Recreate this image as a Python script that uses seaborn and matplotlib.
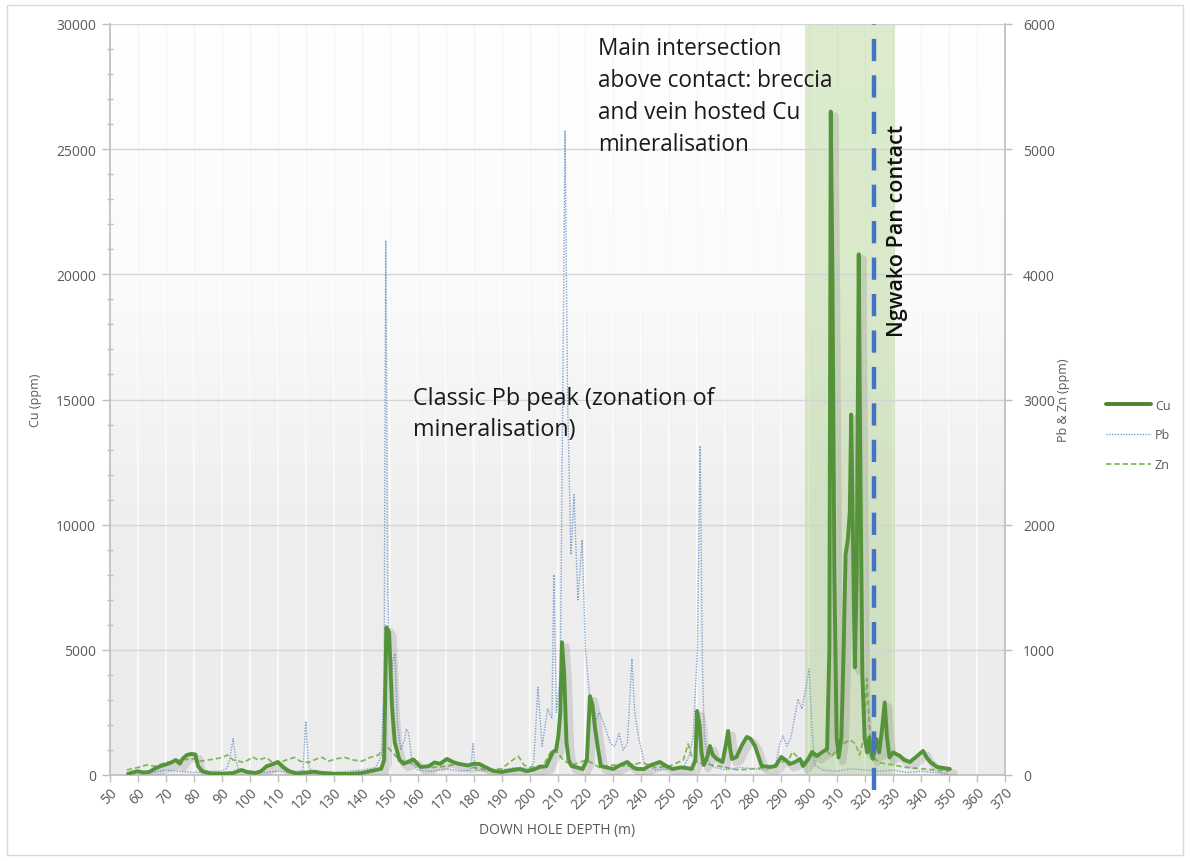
import numpy as np
import pandas as pd
import matplotlib
matplotlib.use("Agg")
import matplotlib.pyplot as plt
import matplotlib.patheffects as pe
from matplotlib.colors import LinearSegmentedColormap
from matplotlib.patches import Rectangle
from matplotlib.lines import Line2D
from matplotlib.ticker import MultipleLocator
import seaborn as sns

# ---------------- data ----------------
cu_depth = [56.5, 58, 60, 62, 64, 66, 68, 70, 72, 73.5, 75, 76, 77.5, 79, 80.5, 81.5, 83, 86, 90, 94,
            97, 99, 102, 104, 106, 108, 110, 112, 114, 117, 120, 123, 126, 130, 135, 140, 143, 145, 147, 148,
            148.8, 149.8, 150.8, 151.8, 153.5, 155, 157, 158.5, 161, 164, 166, 168, 170.5, 173, 175, 178, 180, 182, 184.5, 187,
            190, 193, 196.6, 199, 201.5, 203.7, 206, 207.5, 208.4, 209.5, 210.3, 211, 211.6, 212.4, 213.2, 214, 215, 217, 219, 220.5,
            221.6, 222.5, 223.5, 224.5, 225.5, 227.5, 230, 232.5, 235, 237, 238.5, 241, 243, 246.6, 249, 251, 254, 256, 258, 259.3,
            259.9, 260.8, 261.5, 262.3, 263.5, 264.5, 265.5, 267, 269, 270.2, 271, 271.8, 272.4, 274, 276, 277.7, 279, 280.6, 282, 283,
            286, 288, 290, 291.5, 293, 295, 296.7, 297.8, 299.5, 301, 302.8, 304.5, 306.4, 307.2, 307.7, 308.3, 309, 309.8, 310.5, 311.5,
            312.3, 313, 313.8, 314.5, 315, 315.7, 316.3, 317, 317.7, 318.3, 319, 319.8, 320.7, 321.5, 322.3, 322.8, 323.5, 324, 325, 326,
            327, 327.8, 328.7, 330, 332.4, 334, 336, 338, 340.7, 342, 343.5, 345.7, 348, 350.3]
cu_ppm = [40, 100, 150, 100, 120, 250, 350, 420, 500, 600, 450, 650, 800, 840, 820, 350, 150, 60, 50, 80,
          200, 120, 80, 150, 350, 420, 520, 300, 150, 60, 100, 130, 80, 50, 40, 80, 150, 200, 250, 600,
          5900, 5700, 2800, 1300, 600, 450, 550, 620, 320, 350, 500, 450, 640, 500, 440, 380, 450, 440, 300, 160,
          120, 180, 240, 150, 220, 320, 350, 700, 920, 1000, 1560, 2500, 5300, 4000, 1320, 600, 360, 300, 240, 600,
          3150, 2800, 1800, 1040, 360, 300, 240, 400, 520, 300, 240, 240, 380, 520, 350, 240, 300, 280, 240, 600,
          2560, 2000, 900, 400, 700, 1160, 800, 640, 520, 1200, 1760, 1000, 640, 720, 1200, 1520, 1450, 1160, 700, 360,
          320, 360, 720, 600, 440, 520, 640, 360, 600, 920, 760, 900, 1040, 5000, 26500, 20000, 8000, 1500, 700, 1500,
          5000, 8800, 9400, 10500, 14400, 9000, 4300, 8000, 20800, 12000, 4000, 1500, 900, 1500, 800, 640, 1200, 1440, 900, 1800,
          2900, 1500, 700, 900, 760, 600, 520, 700, 960, 700, 500, 320, 280, 240]

pb_depth = [56, 60, 65, 70, 75, 80, 85, 90, 92, 93, 94, 95, 96, 100, 105, 110, 115, 119, 120, 121,
            122, 130, 135, 140, 145, 147, 148, 148.6, 149.3, 150.2, 151, 151.9, 152.8, 154, 155.3, 156, 156.8, 158, 160, 165,
            170, 175, 179, 179.8, 180.6, 185, 190, 195, 200, 201.5, 203, 204.5, 206.5, 208, 208.7, 209.6, 211, 212.7, 213.6, 214.8,
            215.9, 217.3, 218.8, 220, 221.6, 223, 225, 227, 229, 230.5, 232, 233.5, 235, 236.6, 237.6, 239, 241, 245, 250, 255,
            257, 258.5, 260, 261, 261.8, 262.5, 264, 266, 270, 275, 280, 285, 288, 289.5, 290.6, 292, 293.5, 296, 297.4, 300,
            301, 302, 305, 310, 315, 320, 325, 330, 335, 340, 345, 350]
pb_ppm = [20, 30, 20, 40, 30, 20, 30, 30, 60, 150, 290, 120, 40, 30, 20, 30, 20, 40, 430, 80,
          30, 20, 30, 40, 60, 150, 800, 4270, 1500, 700, 900, 970, 400, 200, 280, 370, 330, 100, 40, 30,
          50, 30, 40, 250, 40, 30, 40, 60, 50, 100, 700, 230, 530, 450, 1600, 500, 800, 5150, 3000, 1760,
          2240, 1400, 1880, 1000, 600, 400, 500, 380, 250, 230, 330, 200, 250, 930, 500, 300, 100, 40, 50, 60,
          150, 300, 1000, 2630, 900, 300, 100, 60, 40, 60, 50, 40, 80, 250, 312, 232, 300, 607, 527, 847,
          350, 80, 40, 30, 50, 40, 30, 40, 20, 30, 20, 10]

zn_depth = [56, 60, 63, 66, 70, 75, 80, 82, 85, 88, 90, 92, 94, 96, 98, 101, 103, 106, 108, 110,
            113, 116, 118, 121, 124, 126, 128, 131, 134, 137, 140, 143, 146, 147.6, 149, 151, 153, 156, 160, 165,
            170, 175, 180, 185, 190, 194, 196, 198, 200, 205, 208, 210, 212, 215, 218, 220, 222, 225, 230, 235,
            240, 245, 250, 255, 256.7, 258, 260, 265, 270, 275, 280, 285, 290, 293, 294, 296, 298, 300, 303, 306,
            308, 310, 312, 314.6, 316.5, 318, 319.5, 320.6, 321.5, 322.5, 325, 330, 335, 340, 345, 350]
zn_ppm = [40, 60, 80, 70, 100, 120, 130, 110, 120, 130, 140, 160, 120, 110, 100, 144, 120, 140, 100, 90,
          120, 140, 110, 100, 130, 140, 110, 130, 140, 120, 110, 140, 160, 208, 230, 180, 130, 100, 80, 60,
          70, 90, 60, 40, 50, 120, 150, 80, 60, 80, 200, 180, 120, 80, 100, 120, 100, 60, 80, 70,
          100, 60, 70, 120, 248, 150, 100, 80, 60, 40, 50, 60, 100, 140, 184, 140, 100, 150, 160, 200,
          150, 200, 250, 280, 250, 160, 300, 770, 400, 150, 100, 80, 60, 50, 40, 30]

x_ticks = list(range(50, 371, 10))
ZONE_START, ZONE_END = 298.5, 330.5
CONTACT_DEPTH = 323

annot_main = "Main intersection\nabove contact: breccia\nand vein hosted Cu\nmineralisation"
annot_pb = "Classic Pb peak (zonation of\nmineralisation)"
annot_contact = "Ngwako Pan contact"

cu_df = pd.DataFrame({"depth": cu_depth, "ppm": cu_ppm})
pb_df = pd.DataFrame({"depth": pb_depth, "ppm": pb_ppm})
zn_df = pd.DataFrame({"depth": zn_depth, "ppm": zn_ppm})

# ---------------- style ----------------
sns.set_theme(style="white")
plt.rcParams["font.family"] = ["Open Sans", "DejaVu Sans"]

W, H = 1190, 862
fig = plt.figure(figsize=(W / 100, H / 100), dpi=100)
fig.patch.set_facecolor("white")
fig.patches.append(Rectangle((7 / W, 6 / H), (1183 - 7) / W, (856 - 6) / H, transform=fig.transFigure,
                             fill=False, edgecolor="#d9d9d9", linewidth=1.0))

L, R, T, B = 110, 1005, 25, 776
ax = fig.add_axes([L / W, 1 - B / H, (R - L) / W, (B - T) / H])  # base: Pb & Zn (right scale)
ax.patch.set_visible(False)

# gradient background
cmap = LinearSegmentedColormap.from_list("bg", ["#ffffff", "#fbfbfb", "#eeeeee", "#ececec"])
ax.imshow(np.linspace(0, 1, 256).reshape(-1, 1), cmap=cmap, extent=[0, 1, 0, 1],
          transform=ax.transAxes, aspect="auto", zorder=-5)

ax.set_xlim(50, 370)
ax.set_ylim(0, 6000)
ax.set_xticks(x_ticks)
ax.yaxis.set_major_locator(MultipleLocator(1000))

# grid
for xv in x_ticks[1:-1]:
    ax.axvline(xv, color="#ffffff", lw=1.6, alpha=0.9, zorder=-4)
    ax.axvline(xv, color="#ececec", lw=0.6, alpha=0.6, zorder=-4)
ax.grid(axis="y", color="#d4d4d4", lw=1.0, zorder=-3)
ax.set_axisbelow(True)

# mineralised zone band
ax.axvspan(ZONE_START, ZONE_END, color="#a3cc7c", alpha=0.38, lw=0, zorder=-2)

sns.lineplot(data=zn_df, x="depth", y="ppm", ax=ax, color="#86b858", lw=1.3,
             linestyle=(0, (3, 1.6)), label="Zn", legend=False, zorder=2)
sns.lineplot(data=pb_df, x="depth", y="ppm", ax=ax, color="#7fa2d0", lw=1.0,
             linestyle=(0, (1, 1)), label="Pb", legend=False, zorder=2)

# Cu axis on top
ax2 = ax.twinx()
ax2.set_ylim(0, 30000)
cu_color = "#55933a"
sns.lineplot(data=cu_df, x="depth", y="ppm", ax=ax2, color=cu_color, lw=2.8, label="Cu", legend=False,
             zorder=3, path_effects=[pe.SimpleLineShadow(offset=(3, -3), shadow_color="#777777", alpha=0.22, linewidth=5),
                                     pe.Normal()])
ax2.axvline(CONTACT_DEPTH, ymin=-0.02, ymax=1.0, color="#4472c4", lw=3.2,
            linestyle=(0, (5, 3.2)), zorder=6, clip_on=False)

# axis arrangement: Cu left, Pb&Zn right
ax2.yaxis.tick_left()
ax2.yaxis.set_label_position("left")
ax.yaxis.tick_right()
ax2.yaxis.set_major_locator(MultipleLocator(5000))
ax2.yaxis.set_minor_locator(MultipleLocator(1000))
ax.set_xlabel("")
ax.set_ylabel("")
ax2.set_xlabel("")
ax2.set_ylabel("")

for a in (ax, ax2):
    for s in a.spines.values():
        s.set_visible(False)
ax2.spines["left"].set_visible(True)
ax2.spines["left"].set_color("#bfbfbf")
ax.spines["right"].set_visible(True)
ax.spines["right"].set_color("#bfbfbf")
ax.spines["bottom"].set_visible(True)
ax.spines["bottom"].set_color("#bfbfbf")

tick_col = "#595959"
ax2.tick_params(axis="y", which="major", left=True, length=6, width=1, color="#bfbfbf",
                labelsize=10, labelcolor=tick_col, pad=4, direction="out")
ax2.tick_params(axis="y", which="minor", left=True, length=4, width=1, color="#bfbfbf", direction="inout")
ax.tick_params(axis="y", which="major", right=True, length=5, width=1, color="#bfbfbf",
               labelsize=10, labelcolor=tick_col, pad=8, direction="out")
ax.tick_params(axis="x", which="major", bottom=True, length=5, width=1, color="#bfbfbf",
               labelsize=10, labelcolor=tick_col, pad=2, direction="out")
for lab in ax.get_xticklabels():
    lab.set_rotation(45)
    lab.set_ha("right")
    lab.set_rotation_mode("anchor")
ax2.tick_params(axis="x", bottom=False, labelbottom=False)

# axis titles
fig.text(35 / W, 1 - 400 / H, "Cu (ppm)", rotation=90, ha="center", va="center", fontsize=9, color=tick_col)
fig.text(1064 / W, 1 - 400 / H, "Pb & Zn (ppm)", rotation=90, ha="center", va="center", fontsize=9, color=tick_col)
fig.text(557 / W, 1 - 831 / H, "DOWN HOLE DEPTH (m)", ha="center", va="center", fontsize=10, color=tick_col)

# annotations
fig.text(598 / W, 1 - 37 / H, annot_main, ha="left", va="top", fontsize=16.3, color="#1a1a1a", linespacing=1.45)
fig.text(413 / W, 1 - 387 / H, annot_pb, ha="left", va="top", fontsize=16.8, color="#1a1a1a", linespacing=1.4)
fig.text(897 / W, 1 - 231 / H, annot_contact, rotation=90, ha="center", va="center", fontsize=15.5,
         color="#111111", fontweight="semibold")

# legend (plain handles, like the reference)
h2, l2 = ax.get_legend_handles_labels()
hmap = dict(zip(l2, h2))
cu_handle = Line2D([], [], color="#4e8530", lw=2.8)
leg = fig.legend([cu_handle, hmap["Pb"], hmap["Zn"]], ["Cu", "Pb", "Zn"], loc="center left",
                 bbox_to_anchor=(1106 / W, 1 - 436 / H), frameon=False, fontsize=9,
                 handlelength=3.6, labelspacing=1.35, handletextpad=0.3, borderpad=0, borderaxespad=0)
for t in leg.get_texts():
    t.set_color(tick_col)

fig.savefig("out.png", dpi=100)
